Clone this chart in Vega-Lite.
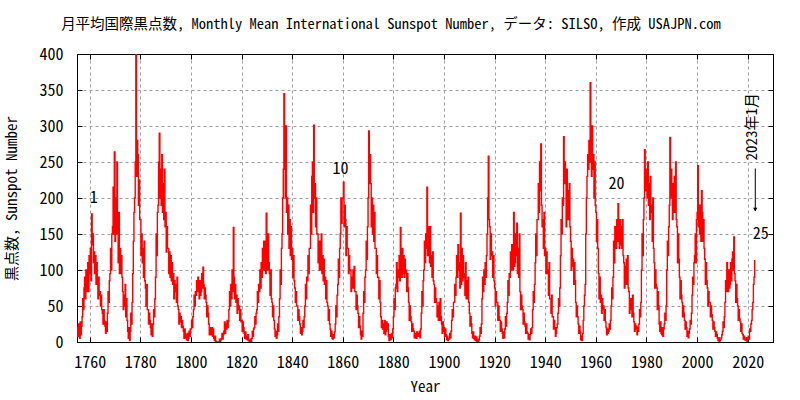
{
"$schema":"https://vega.github.io/schema/vega-lite/v6.json",
"width":696,"height":288,
"autosize":{"type":"none"},
"padding":{"left":77,"top":54,"right":27,"bottom":58},
"background":"white",
"title":{"text":"月平均国際黒点数, Monthly Mean International Sunspot Number, データ: SILSO, 作成 USAJPN.com","fontSize":14.5,"fontWeight":"normal","font":"Noto Sans Mono CJK JP, DejaVu Sans Mono, Noto Sans CJK JP, monospace","color":"black","anchor":"middle","dx":-34,"offset":14},
"config":{
"font":"Noto Sans Mono CJK JP, DejaVu Sans Mono, Noto Sans CJK JP, monospace",
"view":{"stroke":"black","strokeWidth":1},
"axis":{"labelFont":"Noto Sans Mono CJK JP, DejaVu Sans Mono, Noto Sans CJK JP, monospace","titleFont":"Noto Sans Mono CJK JP, DejaVu Sans Mono, Noto Sans CJK JP, monospace","labelFontSize":16,"titleFontSize":15,"titleFontWeight":"normal","labelColor":"black","titleColor":"black","domainColor":"black","tickColor":"black","tickSize":-5,"gridColor":"#a0a0a0","gridDash":[3,3],"gridWidth":1}
},
"datasets":{
"lab":[
{"k":"n","t":1760,"v":200,"s":"1"},
{"k":"n","t":1856,"v":240,"s":"10"},
{"k":"n","t":1965,"v":220,"s":"20"},
{"k":"n","t":2022,"v":150,"s":"25"},
{"k":"r","t":2021.9,"v":299,"s":"2023年1月"},
{"k":"a","t":2023,"v":241,"v2":182,"h":184}
],
"ssn":[
{"t":1755,"v":20},{"t":1755.25,"v":8},{"t":1755.5,"v":25},{"t":1755.75,"v":12},
{"t":1756,"v":5},{"t":1756.25,"v":28},{"t":1756.5,"v":10},{"t":1756.75,"v":22},
{"t":1757,"v":35},{"t":1757.25,"v":60},{"t":1757.5,"v":45},{"t":1757.75,"v":75},
{"t":1758,"v":90},{"t":1758.25,"v":60},{"t":1758.5,"v":100},{"t":1758.75,"v":70},
{"t":1759,"v":85},{"t":1759.25,"v":110},{"t":1759.5,"v":70},{"t":1759.75,"v":120},
{"t":1760,"v":95},{"t":1760.25,"v":130},{"t":1760.5,"v":85},{"t":1760.75,"v":178},
{"t":1761,"v":135},{"t":1761.25,"v":150},{"t":1761.5,"v":110},{"t":1761.75,"v":125},
{"t":1762,"v":95},{"t":1762.25,"v":120},{"t":1762.5,"v":80},{"t":1762.75,"v":110},
{"t":1763,"v":85},{"t":1763.25,"v":60},{"t":1763.5,"v":90},{"t":1763.75,"v":65},
{"t":1764,"v":70},{"t":1764.25,"v":50},{"t":1764.5,"v":65},{"t":1764.75,"v":45},
{"t":1765,"v":40},{"t":1765.25,"v":25},{"t":1765.5,"v":45},{"t":1765.75,"v":30},
{"t":1766,"v":22},{"t":1766.25,"v":12},{"t":1766.5,"v":28},{"t":1766.75,"v":15},
{"t":1767,"v":40},{"t":1767.25,"v":70},{"t":1767.5,"v":55},{"t":1767.75,"v":85},
{"t":1768,"v":95},{"t":1768.25,"v":130},{"t":1768.5,"v":100},{"t":1768.75,"v":150},
{"t":1769,"v":160},{"t":1769.25,"v":215},{"t":1769.5,"v":150},{"t":1769.75,"v":264},
{"t":1770,"v":140},{"t":1770.25,"v":200},{"t":1770.5,"v":150},{"t":1770.75,"v":250},
{"t":1771,"v":160},{"t":1771.25,"v":110},{"t":1771.5,"v":180},{"t":1771.75,"v":95},
{"t":1772,"v":130},{"t":1772.25,"v":95},{"t":1772.5,"v":120},{"t":1772.75,"v":90},
{"t":1773,"v":70},{"t":1773.25,"v":45},{"t":1773.5,"v":65},{"t":1773.75,"v":50},
{"t":1774,"v":80},{"t":1774.25,"v":35},{"t":1774.5,"v":60},{"t":1774.75,"v":30},
{"t":1775,"v":15},{"t":1775.25,"v":5},{"t":1775.5,"v":20},{"t":1775.75,"v":2},
{"t":1776,"v":15},{"t":1776.25,"v":40},{"t":1776.5,"v":25},{"t":1776.75,"v":55},
{"t":1777,"v":95},{"t":1777.25,"v":140},{"t":1777.5,"v":180},{"t":1777.75,"v":200},
{"t":1778,"v":250},{"t":1778.25,"v":400},{"t":1778.5,"v":230},{"t":1778.75,"v":280},
{"t":1779,"v":260},{"t":1779.25,"v":190},{"t":1779.5,"v":225},{"t":1779.75,"v":170},
{"t":1780,"v":170},{"t":1780.25,"v":120},{"t":1780.5,"v":150},{"t":1780.75,"v":110},
{"t":1781,"v":130},{"t":1781.25,"v":90},{"t":1781.5,"v":140},{"t":1781.75,"v":85},
{"t":1782,"v":75},{"t":1782.25,"v":50},{"t":1782.5,"v":80},{"t":1782.75,"v":45},
{"t":1783,"v":45},{"t":1783.25,"v":25},{"t":1783.5,"v":40},{"t":1783.75,"v":30},
{"t":1784,"v":20},{"t":1784.25,"v":10},{"t":1784.5,"v":25},{"t":1784.75,"v":8},
{"t":1785,"v":25},{"t":1785.25,"v":45},{"t":1785.5,"v":35},{"t":1785.75,"v":60},
{"t":1786,"v":90},{"t":1786.25,"v":150},{"t":1786.5,"v":120},{"t":1786.75,"v":180},
{"t":1787,"v":190},{"t":1787.25,"v":250},{"t":1787.5,"v":290},{"t":1787.75,"v":200},
{"t":1788,"v":240},{"t":1788.25,"v":190},{"t":1788.5,"v":260},{"t":1788.75,"v":180},
{"t":1789,"v":220},{"t":1789.25,"v":170},{"t":1789.5,"v":240},{"t":1789.75,"v":160},
{"t":1790,"v":180},{"t":1790.25,"v":125},{"t":1790.5,"v":160},{"t":1790.75,"v":130},
{"t":1791,"v":130},{"t":1791.25,"v":95},{"t":1791.5,"v":125},{"t":1791.75,"v":90},
{"t":1792,"v":120},{"t":1792.25,"v":85},{"t":1792.5,"v":110},{"t":1792.75,"v":80},
{"t":1793,"v":95},{"t":1793.25,"v":60},{"t":1793.5,"v":85},{"t":1793.75,"v":70},
{"t":1794,"v":80},{"t":1794.25,"v":55},{"t":1794.5,"v":90},{"t":1794.75,"v":50},
{"t":1795,"v":45},{"t":1795.25,"v":25},{"t":1795.5,"v":40},{"t":1795.75,"v":28},
{"t":1796,"v":35},{"t":1796.25,"v":20},{"t":1796.5,"v":30},{"t":1796.75,"v":22},
{"t":1797,"v":15},{"t":1797.25,"v":5},{"t":1797.5,"v":18},{"t":1797.75,"v":6},
{"t":1798,"v":10},{"t":1798.25,"v":3},{"t":1798.5,"v":12},{"t":1798.75,"v":2},
{"t":1799,"v":5},{"t":1799.25,"v":15},{"t":1799.5,"v":8},{"t":1799.75,"v":18},
{"t":1800,"v":18},{"t":1800.25,"v":30},{"t":1800.5,"v":20},{"t":1800.75,"v":35},
{"t":1801,"v":45},{"t":1801.25,"v":65},{"t":1801.5,"v":50},{"t":1801.75,"v":70},
{"t":1802,"v":65},{"t":1802.25,"v":85},{"t":1802.5,"v":70},{"t":1802.75,"v":90},
{"t":1803,"v":80},{"t":1803.25,"v":60},{"t":1803.5,"v":85},{"t":1803.75,"v":65},
{"t":1804,"v":70},{"t":1804.25,"v":95},{"t":1804.5,"v":75},{"t":1804.75,"v":104},
{"t":1805,"v":80},{"t":1805.25,"v":60},{"t":1805.5,"v":75},{"t":1805.75,"v":65},
{"t":1806,"v":55},{"t":1806.25,"v":35},{"t":1806.5,"v":50},{"t":1806.75,"v":40},
{"t":1807,"v":25},{"t":1807.25,"v":10},{"t":1807.5,"v":20},{"t":1807.75,"v":12},
{"t":1808,"v":10},{"t":1808.25,"v":20},{"t":1808.5,"v":8},{"t":1808.75,"v":18},
{"t":1809,"v":5},{"t":1809.25,"v":2},{"t":1809.5,"v":8},{"t":1809.75,"v":1},
{"t":1810,"v":0},{"t":1810.25,"v":0},{"t":1810.5,"v":0},{"t":1810.75,"v":0},
{"t":1811,"v":0},{"t":1811.25,"v":4},{"t":1811.5,"v":1},{"t":1811.75,"v":3},
{"t":1812,"v":5},{"t":1812.25,"v":12},{"t":1812.5,"v":4},{"t":1812.75,"v":10},
{"t":1813,"v":15},{"t":1813.25,"v":28},{"t":1813.5,"v":12},{"t":1813.75,"v":25},
{"t":1814,"v":18},{"t":1814.25,"v":30},{"t":1814.5,"v":20},{"t":1814.75,"v":28},
{"t":1815,"v":45},{"t":1815.25,"v":70},{"t":1815.5,"v":50},{"t":1815.75,"v":80},
{"t":1816,"v":60},{"t":1816.25,"v":100},{"t":1816.5,"v":70},{"t":1816.75,"v":159},
{"t":1817,"v":90},{"t":1817.25,"v":60},{"t":1817.5,"v":80},{"t":1817.75,"v":55},
{"t":1818,"v":65},{"t":1818.25,"v":40},{"t":1818.5,"v":60},{"t":1818.75,"v":45},
{"t":1819,"v":50},{"t":1819.25,"v":30},{"t":1819.5,"v":45},{"t":1819.75,"v":28},
{"t":1820,"v":30},{"t":1820.25,"v":15},{"t":1820.5,"v":28},{"t":1820.75,"v":20},
{"t":1821,"v":12},{"t":1821.25,"v":5},{"t":1821.5,"v":14},{"t":1821.75,"v":4},
{"t":1822,"v":8},{"t":1822.25,"v":3},{"t":1822.5,"v":10},{"t":1822.75,"v":2},
{"t":1823,"v":1},{"t":1823.25,"v":0},{"t":1823.5,"v":4},{"t":1823.75,"v":1},
{"t":1824,"v":5},{"t":1824.25,"v":15},{"t":1824.5,"v":8},{"t":1824.75,"v":18},
{"t":1825,"v":20},{"t":1825.25,"v":35},{"t":1825.5,"v":25},{"t":1825.75,"v":40},
{"t":1826,"v":45},{"t":1826.25,"v":70},{"t":1826.5,"v":55},{"t":1826.75,"v":80},
{"t":1827,"v":70},{"t":1827.25,"v":100},{"t":1827.5,"v":75},{"t":1827.75,"v":110},
{"t":1828,"v":90},{"t":1828.25,"v":130},{"t":1828.5,"v":100},{"t":1828.75,"v":140},
{"t":1829,"v":100},{"t":1829.25,"v":140},{"t":1829.5,"v":95},{"t":1829.75,"v":179},
{"t":1830,"v":130},{"t":1830.25,"v":100},{"t":1830.5,"v":150},{"t":1830.75,"v":110},
{"t":1831,"v":95},{"t":1831.25,"v":65},{"t":1831.5,"v":100},{"t":1831.75,"v":60},
{"t":1832,"v":55},{"t":1832.25,"v":35},{"t":1832.5,"v":50},{"t":1832.75,"v":30},
{"t":1833,"v":18},{"t":1833.25,"v":8},{"t":1833.5,"v":15},{"t":1833.75,"v":5},
{"t":1834,"v":10},{"t":1834.25,"v":25},{"t":1834.5,"v":15},{"t":1834.75,"v":35},
{"t":1835,"v":60},{"t":1835.25,"v":100},{"t":1835.5,"v":80},{"t":1835.75,"v":130},
{"t":1836,"v":150},{"t":1836.25,"v":200},{"t":1836.5,"v":240},{"t":1836.75,"v":345},
{"t":1837,"v":260},{"t":1837.25,"v":200},{"t":1837.5,"v":300},{"t":1837.75,"v":180},
{"t":1838,"v":200},{"t":1838.25,"v":150},{"t":1838.5,"v":190},{"t":1838.75,"v":130},
{"t":1839,"v":170},{"t":1839.25,"v":120},{"t":1839.5,"v":160},{"t":1839.75,"v":115},
{"t":1840,"v":130},{"t":1840.25,"v":90},{"t":1840.5,"v":120},{"t":1840.75,"v":85},
{"t":1841,"v":75},{"t":1841.25,"v":55},{"t":1841.5,"v":70},{"t":1841.75,"v":50},
{"t":1842,"v":50},{"t":1842.25,"v":30},{"t":1842.5,"v":45},{"t":1842.75,"v":35},
{"t":1843,"v":25},{"t":1843.25,"v":12},{"t":1843.5,"v":20},{"t":1843.75,"v":10},
{"t":1844,"v":15},{"t":1844.25,"v":30},{"t":1844.5,"v":20},{"t":1844.75,"v":35},
{"t":1845,"v":50},{"t":1845.25,"v":80},{"t":1845.5,"v":60},{"t":1845.75,"v":90},
{"t":1846,"v":85},{"t":1846.25,"v":120},{"t":1846.5,"v":95},{"t":1846.75,"v":130},
{"t":1847,"v":130},{"t":1847.25,"v":190},{"t":1847.5,"v":150},{"t":1847.75,"v":230},
{"t":1848,"v":250},{"t":1848.25,"v":180},{"t":1848.5,"v":301},{"t":1848.75,"v":200},
{"t":1849,"v":220},{"t":1849.25,"v":160},{"t":1849.5,"v":200},{"t":1849.75,"v":150},
{"t":1850,"v":150},{"t":1850.25,"v":110},{"t":1850.5,"v":140},{"t":1850.75,"v":100},
{"t":1851,"v":140},{"t":1851.25,"v":100},{"t":1851.5,"v":150},{"t":1851.75,"v":95},
{"t":1852,"v":120},{"t":1852.25,"v":85},{"t":1852.5,"v":115},{"t":1852.75,"v":80},
{"t":1853,"v":90},{"t":1853.25,"v":60},{"t":1853.5,"v":85},{"t":1853.75,"v":55},
{"t":1854,"v":50},{"t":1854.25,"v":30},{"t":1854.5,"v":45},{"t":1854.75,"v":25},
{"t":1855,"v":18},{"t":1855.25,"v":8},{"t":1855.5,"v":15},{"t":1855.75,"v":5},
{"t":1856,"v":4},{"t":1856.25,"v":10},{"t":1856.5,"v":6},{"t":1856.75,"v":14},
{"t":1857,"v":25},{"t":1857.25,"v":50},{"t":1857.5,"v":35},{"t":1857.75,"v":65},
{"t":1858,"v":80},{"t":1858.25,"v":115},{"t":1858.5,"v":90},{"t":1858.75,"v":130},
{"t":1859,"v":150},{"t":1859.25,"v":200},{"t":1859.5,"v":165},{"t":1859.75,"v":200},
{"t":1860,"v":200},{"t":1860.25,"v":222},{"t":1860.5,"v":160},{"t":1860.75,"v":190},
{"t":1861,"v":170},{"t":1861.25,"v":120},{"t":1861.5,"v":160},{"t":1861.75,"v":130},
{"t":1862,"v":130},{"t":1862.25,"v":95},{"t":1862.5,"v":120},{"t":1862.75,"v":100},
{"t":1863,"v":100},{"t":1863.25,"v":70},{"t":1863.5,"v":90},{"t":1863.75,"v":75},
{"t":1864,"v":100},{"t":1864.25,"v":75},{"t":1864.5,"v":105},{"t":1864.75,"v":70},
{"t":1865,"v":70},{"t":1865.25,"v":45},{"t":1865.5,"v":65},{"t":1865.75,"v":50},
{"t":1866,"v":40},{"t":1866.25,"v":20},{"t":1866.5,"v":35},{"t":1866.75,"v":22},
{"t":1867,"v":10},{"t":1867.25,"v":4},{"t":1867.5,"v":15},{"t":1867.75,"v":8},
{"t":1868,"v":40},{"t":1868.25,"v":70},{"t":1868.5,"v":55},{"t":1868.75,"v":90},
{"t":1869,"v":100},{"t":1869.25,"v":140},{"t":1869.5,"v":115},{"t":1869.75,"v":160},
{"t":1870,"v":200},{"t":1870.25,"v":293},{"t":1870.5,"v":220},{"t":1870.75,"v":260},
{"t":1871,"v":220},{"t":1871.25,"v":160},{"t":1871.5,"v":200},{"t":1871.75,"v":150},
{"t":1872,"v":190},{"t":1872.25,"v":140},{"t":1872.5,"v":180},{"t":1872.75,"v":130},
{"t":1873,"v":130},{"t":1873.25,"v":95},{"t":1873.5,"v":120},{"t":1873.75,"v":90},
{"t":1874,"v":90},{"t":1874.25,"v":60},{"t":1874.5,"v":85},{"t":1874.75,"v":55},
{"t":1875,"v":35},{"t":1875.25,"v":20},{"t":1875.5,"v":30},{"t":1875.75,"v":18},
{"t":1876,"v":25},{"t":1876.25,"v":12},{"t":1876.5,"v":30},{"t":1876.75,"v":10},
{"t":1877,"v":15},{"t":1877.25,"v":28},{"t":1877.5,"v":18},{"t":1877.75,"v":25},
{"t":1878,"v":8},{"t":1878.25,"v":2},{"t":1878.5,"v":10},{"t":1878.75,"v":3},
{"t":1879,"v":4},{"t":1879.25,"v":12},{"t":1879.5,"v":6},{"t":1879.75,"v":18},
{"t":1880,"v":35},{"t":1880.25,"v":60},{"t":1880.5,"v":45},{"t":1880.75,"v":75},
{"t":1881,"v":80},{"t":1881.25,"v":110},{"t":1881.5,"v":70},{"t":1881.75,"v":100},
{"t":1882,"v":90},{"t":1882.25,"v":120},{"t":1882.5,"v":85},{"t":1882.75,"v":159},
{"t":1883,"v":110},{"t":1883.25,"v":90},{"t":1883.5,"v":130},{"t":1883.75,"v":95},
{"t":1884,"v":120},{"t":1884.25,"v":90},{"t":1884.5,"v":115},{"t":1884.75,"v":95},
{"t":1885,"v":100},{"t":1885.25,"v":70},{"t":1885.5,"v":95},{"t":1885.75,"v":75},
{"t":1886,"v":55},{"t":1886.25,"v":30},{"t":1886.5,"v":50},{"t":1886.75,"v":35},
{"t":1887,"v":28},{"t":1887.25,"v":15},{"t":1887.5,"v":25},{"t":1887.75,"v":18},
{"t":1888,"v":15},{"t":1888.25,"v":6},{"t":1888.5,"v":12},{"t":1888.75,"v":8},
{"t":1889,"v":5},{"t":1889.25,"v":14},{"t":1889.5,"v":8},{"t":1889.75,"v":12},
{"t":1890,"v":8},{"t":1890.25,"v":15},{"t":1890.5,"v":6},{"t":1890.75,"v":18},
{"t":1891,"v":40},{"t":1891.25,"v":70},{"t":1891.5,"v":50},{"t":1891.75,"v":85},
{"t":1892,"v":100},{"t":1892.25,"v":140},{"t":1892.5,"v":110},{"t":1892.75,"v":150},
{"t":1893,"v":130},{"t":1893.25,"v":215},{"t":1893.5,"v":120},{"t":1893.75,"v":160},
{"t":1894,"v":150},{"t":1894.25,"v":110},{"t":1894.5,"v":160},{"t":1894.75,"v":105},
{"t":1895,"v":120},{"t":1895.25,"v":90},{"t":1895.5,"v":125},{"t":1895.75,"v":85},
{"t":1896,"v":80},{"t":1896.25,"v":55},{"t":1896.5,"v":75},{"t":1896.75,"v":60},
{"t":1897,"v":55},{"t":1897.25,"v":35},{"t":1897.5,"v":50},{"t":1897.75,"v":30},
{"t":1898,"v":55},{"t":1898.25,"v":30},{"t":1898.5,"v":60},{"t":1898.75,"v":35},
{"t":1899,"v":25},{"t":1899.25,"v":12},{"t":1899.5,"v":28},{"t":1899.75,"v":15},
{"t":1900,"v":20},{"t":1900.25,"v":8},{"t":1900.5,"v":18},{"t":1900.75,"v":10},
{"t":1901,"v":3},{"t":1901.25,"v":8},{"t":1901.5,"v":2},{"t":1901.75,"v":5},
{"t":1902,"v":4},{"t":1902.25,"v":12},{"t":1902.5,"v":6},{"t":1902.75,"v":15},
{"t":1903,"v":30},{"t":1903.25,"v":45},{"t":1903.5,"v":35},{"t":1903.75,"v":55},
{"t":1904,"v":55},{"t":1904.25,"v":80},{"t":1904.5,"v":65},{"t":1904.75,"v":90},
{"t":1905,"v":120},{"t":1905.25,"v":90},{"t":1905.5,"v":135},{"t":1905.75,"v":100},
{"t":1906,"v":110},{"t":1906.25,"v":75},{"t":1906.5,"v":179},{"t":1906.75,"v":80},
{"t":1907,"v":130},{"t":1907.25,"v":85},{"t":1907.5,"v":120},{"t":1907.75,"v":90},
{"t":1908,"v":95},{"t":1908.25,"v":65},{"t":1908.5,"v":110},{"t":1908.75,"v":60},
{"t":1909,"v":85},{"t":1909.25,"v":60},{"t":1909.5,"v":90},{"t":1909.75,"v":55},
{"t":1910,"v":40},{"t":1910.25,"v":22},{"t":1910.5,"v":35},{"t":1910.75,"v":25},
{"t":1911,"v":12},{"t":1911.25,"v":6},{"t":1911.5,"v":14},{"t":1911.75,"v":5},
{"t":1912,"v":3},{"t":1912.25,"v":8},{"t":1912.5,"v":2},{"t":1912.75,"v":7},
{"t":1913,"v":1},{"t":1913.25,"v":4},{"t":1913.5,"v":0},{"t":1913.75,"v":3},
{"t":1914,"v":8},{"t":1914.25,"v":20},{"t":1914.5,"v":12},{"t":1914.75,"v":25},
{"t":1915,"v":60},{"t":1915.25,"v":90},{"t":1915.5,"v":70},{"t":1915.75,"v":100},
{"t":1916,"v":80},{"t":1916.25,"v":110},{"t":1916.5,"v":90},{"t":1916.75,"v":120},
{"t":1917,"v":150},{"t":1917.25,"v":200},{"t":1917.5,"v":258},{"t":1917.75,"v":170},
{"t":1918,"v":160},{"t":1918.25,"v":115},{"t":1918.5,"v":150},{"t":1918.75,"v":120},
{"t":1919,"v":125},{"t":1919.25,"v":90},{"t":1919.5,"v":120},{"t":1919.75,"v":85},
{"t":1920,"v":75},{"t":1920.25,"v":50},{"t":1920.5,"v":70},{"t":1920.75,"v":55},
{"t":1921,"v":55},{"t":1921.25,"v":30},{"t":1921.5,"v":50},{"t":1921.75,"v":35},
{"t":1922,"v":30},{"t":1922.25,"v":15},{"t":1922.5,"v":28},{"t":1922.75,"v":18},
{"t":1923,"v":12},{"t":1923.25,"v":5},{"t":1923.5,"v":14},{"t":1923.75,"v":6},
{"t":1924,"v":18},{"t":1924.25,"v":35},{"t":1924.5,"v":22},{"t":1924.75,"v":40},
{"t":1925,"v":55},{"t":1925.25,"v":85},{"t":1925.5,"v":65},{"t":1925.75,"v":95},
{"t":1926,"v":90},{"t":1926.25,"v":125},{"t":1926.5,"v":100},{"t":1926.75,"v":135},
{"t":1927,"v":130},{"t":1927.25,"v":100},{"t":1927.5,"v":180},{"t":1927.75,"v":105},
{"t":1928,"v":110},{"t":1928.25,"v":150},{"t":1928.5,"v":120},{"t":1928.75,"v":165},
{"t":1929,"v":95},{"t":1929.25,"v":130},{"t":1929.5,"v":90},{"t":1929.75,"v":150},
{"t":1930,"v":70},{"t":1930.25,"v":45},{"t":1930.5,"v":65},{"t":1930.75,"v":50},
{"t":1931,"v":45},{"t":1931.25,"v":25},{"t":1931.5,"v":40},{"t":1931.75,"v":28},
{"t":1932,"v":22},{"t":1932.25,"v":12},{"t":1932.5,"v":25},{"t":1932.75,"v":14},
{"t":1933,"v":12},{"t":1933.25,"v":4},{"t":1933.5,"v":10},{"t":1933.75,"v":3},
{"t":1934,"v":10},{"t":1934.25,"v":18},{"t":1934.5,"v":12},{"t":1934.75,"v":20},
{"t":1935,"v":45},{"t":1935.25,"v":70},{"t":1935.5,"v":55},{"t":1935.75,"v":80},
{"t":1936,"v":110},{"t":1936.25,"v":150},{"t":1936.5,"v":120},{"t":1936.75,"v":170},
{"t":1937,"v":170},{"t":1937.25,"v":220},{"t":1937.5,"v":180},{"t":1937.75,"v":250},
{"t":1938,"v":210},{"t":1938.25,"v":275},{"t":1938.5,"v":190},{"t":1938.75,"v":160},
{"t":1939,"v":170},{"t":1939.25,"v":130},{"t":1939.5,"v":180},{"t":1939.75,"v":120},
{"t":1940,"v":130},{"t":1940.25,"v":95},{"t":1940.5,"v":125},{"t":1940.75,"v":100},
{"t":1941,"v":95},{"t":1941.25,"v":65},{"t":1941.5,"v":110},{"t":1941.75,"v":60},
{"t":1942,"v":60},{"t":1942.25,"v":40},{"t":1942.5,"v":65},{"t":1942.75,"v":35},
{"t":1943,"v":35},{"t":1943.25,"v":18},{"t":1943.5,"v":30},{"t":1943.75,"v":20},
{"t":1944,"v":8},{"t":1944.25,"v":12},{"t":1944.5,"v":20},{"t":1944.75,"v":25},
{"t":1945,"v":40},{"t":1945.25,"v":60},{"t":1945.5,"v":50},{"t":1945.75,"v":75},
{"t":1946,"v":120},{"t":1946.25,"v":170},{"t":1946.5,"v":150},{"t":1946.75,"v":200},
{"t":1947,"v":190},{"t":1947.25,"v":285},{"t":1947.5,"v":220},{"t":1947.75,"v":250},
{"t":1948,"v":220},{"t":1948.25,"v":160},{"t":1948.5,"v":240},{"t":1948.75,"v":170},
{"t":1949,"v":210},{"t":1949.25,"v":170},{"t":1949.5,"v":220},{"t":1949.75,"v":160},
{"t":1950,"v":140},{"t":1950.25,"v":100},{"t":1950.5,"v":130},{"t":1950.75,"v":105},
{"t":1951,"v":115},{"t":1951.25,"v":80},{"t":1951.5,"v":110},{"t":1951.75,"v":85},
{"t":1952,"v":55},{"t":1952.25,"v":35},{"t":1952.5,"v":50},{"t":1952.75,"v":35},
{"t":1953,"v":25},{"t":1953.25,"v":12},{"t":1953.5,"v":22},{"t":1953.75,"v":15},
{"t":1954,"v":3},{"t":1954.25,"v":8},{"t":1954.5,"v":2},{"t":1954.75,"v":12},
{"t":1955,"v":30},{"t":1955.25,"v":50},{"t":1955.5,"v":65},{"t":1955.75,"v":80},
{"t":1956,"v":150},{"t":1956.25,"v":200},{"t":1956.5,"v":230},{"t":1956.75,"v":260},
{"t":1957,"v":240},{"t":1957.25,"v":280},{"t":1957.5,"v":250},{"t":1957.75,"v":360},
{"t":1958,"v":290},{"t":1958.25,"v":230},{"t":1958.5,"v":300},{"t":1958.75,"v":240},
{"t":1959,"v":260},{"t":1959.25,"v":200},{"t":1959.5,"v":250},{"t":1959.75,"v":190},
{"t":1960,"v":180},{"t":1960.25,"v":140},{"t":1960.5,"v":170},{"t":1960.75,"v":130},
{"t":1961,"v":95},{"t":1961.25,"v":60},{"t":1961.5,"v":90},{"t":1961.75,"v":55},
{"t":1962,"v":65},{"t":1962.25,"v":40},{"t":1962.5,"v":60},{"t":1962.75,"v":45},
{"t":1963,"v":50},{"t":1963.25,"v":30},{"t":1963.5,"v":45},{"t":1963.75,"v":28},
{"t":1964,"v":20},{"t":1964.25,"v":10},{"t":1964.5,"v":18},{"t":1964.75,"v":12},
{"t":1965,"v":15},{"t":1965.25,"v":25},{"t":1965.5,"v":18},{"t":1965.75,"v":30},
{"t":1966,"v":50},{"t":1966.25,"v":75},{"t":1966.5,"v":60},{"t":1966.75,"v":90},
{"t":1967,"v":140},{"t":1967.25,"v":110},{"t":1967.5,"v":160},{"t":1967.75,"v":130},
{"t":1968,"v":130},{"t":1968.25,"v":170},{"t":1968.5,"v":140},{"t":1968.75,"v":192},
{"t":1969,"v":165},{"t":1969.25,"v":130},{"t":1969.5,"v":170},{"t":1969.75,"v":135},
{"t":1970,"v":160},{"t":1970.25,"v":130},{"t":1970.5,"v":170},{"t":1970.75,"v":120},
{"t":1971,"v":110},{"t":1971.25,"v":75},{"t":1971.5,"v":105},{"t":1971.75,"v":80},
{"t":1972,"v":115},{"t":1972.25,"v":80},{"t":1972.5,"v":120},{"t":1972.75,"v":75},
{"t":1973,"v":70},{"t":1973.25,"v":40},{"t":1973.5,"v":60},{"t":1973.75,"v":45},
{"t":1974,"v":60},{"t":1974.25,"v":35},{"t":1974.5,"v":65},{"t":1974.75,"v":40},
{"t":1975,"v":28},{"t":1975.25,"v":15},{"t":1975.5,"v":25},{"t":1975.75,"v":18},
{"t":1976,"v":22},{"t":1976.25,"v":10},{"t":1976.5,"v":20},{"t":1976.75,"v":15},
{"t":1977,"v":25},{"t":1977.25,"v":45},{"t":1977.5,"v":35},{"t":1977.75,"v":55},
{"t":1978,"v":100},{"t":1978.25,"v":150},{"t":1978.5,"v":120},{"t":1978.75,"v":170},
{"t":1979,"v":200},{"t":1979.25,"v":267},{"t":1979.5,"v":210},{"t":1979.75,"v":240},
{"t":1980,"v":240},{"t":1980.25,"v":200},{"t":1980.5,"v":250},{"t":1980.75,"v":190},
{"t":1981,"v":220},{"t":1981.25,"v":170},{"t":1981.5,"v":230},{"t":1981.75,"v":180},
{"t":1982,"v":190},{"t":1982.25,"v":140},{"t":1982.5,"v":200},{"t":1982.75,"v":130},
{"t":1983,"v":110},{"t":1983.25,"v":75},{"t":1983.5,"v":100},{"t":1983.75,"v":80},
{"t":1984,"v":75},{"t":1984.25,"v":45},{"t":1984.5,"v":70},{"t":1984.75,"v":50},
{"t":1985,"v":25},{"t":1985.25,"v":15},{"t":1985.5,"v":28},{"t":1985.75,"v":12},
{"t":1986,"v":10},{"t":1986.25,"v":20},{"t":1986.5,"v":8},{"t":1986.75,"v":18},
{"t":1987,"v":25},{"t":1987.25,"v":40},{"t":1987.5,"v":30},{"t":1987.75,"v":50},
{"t":1988,"v":100},{"t":1988.25,"v":140},{"t":1988.5,"v":120},{"t":1988.75,"v":160},
{"t":1989,"v":190},{"t":1989.25,"v":284},{"t":1989.5,"v":200},{"t":1989.75,"v":240},
{"t":1990,"v":210},{"t":1990.25,"v":170},{"t":1990.5,"v":220},{"t":1990.75,"v":180},
{"t":1991,"v":230},{"t":1991.25,"v":180},{"t":1991.5,"v":250},{"t":1991.75,"v":170},
{"t":1992,"v":160},{"t":1992.25,"v":110},{"t":1992.5,"v":150},{"t":1992.75,"v":115},
{"t":1993,"v":90},{"t":1993.25,"v":60},{"t":1993.5,"v":85},{"t":1993.75,"v":65},
{"t":1994,"v":55},{"t":1994.25,"v":35},{"t":1994.5,"v":50},{"t":1994.75,"v":40},
{"t":1995,"v":30},{"t":1995.25,"v":18},{"t":1995.5,"v":28},{"t":1995.75,"v":20},
{"t":1996,"v":8},{"t":1996.25,"v":15},{"t":1996.5,"v":6},{"t":1996.75,"v":12},
{"t":1997,"v":18},{"t":1997.25,"v":30},{"t":1997.5,"v":25},{"t":1997.75,"v":40},
{"t":1998,"v":65},{"t":1998.25,"v":90},{"t":1998.5,"v":80},{"t":1998.75,"v":110},
{"t":1999,"v":120},{"t":1999.25,"v":150},{"t":1999.5,"v":110},{"t":1999.75,"v":170},
{"t":2000,"v":180},{"t":2000.25,"v":245},{"t":2000.5,"v":160},{"t":2000.75,"v":190},
{"t":2001,"v":150},{"t":2001.25,"v":190},{"t":2001.5,"v":140},{"t":2001.75,"v":210},
{"t":2002,"v":180},{"t":2002.25,"v":140},{"t":2002.5,"v":170},{"t":2002.75,"v":130},
{"t":2003,"v":115},{"t":2003.25,"v":80},{"t":2003.5,"v":110},{"t":2003.75,"v":85},
{"t":2004,"v":75},{"t":2004.25,"v":50},{"t":2004.5,"v":70},{"t":2004.75,"v":55},
{"t":2005,"v":55},{"t":2005.25,"v":35},{"t":2005.5,"v":50},{"t":2005.75,"v":38},
{"t":2006,"v":30},{"t":2006.25,"v":18},{"t":2006.5,"v":28},{"t":2006.75,"v":20},
{"t":2007,"v":15},{"t":2007.25,"v":8},{"t":2007.5,"v":14},{"t":2007.75,"v":10},
{"t":2008,"v":5},{"t":2008.25,"v":2},{"t":2008.5,"v":6},{"t":2008.75,"v":1},
{"t":2009,"v":2},{"t":2009.25,"v":4},{"t":2009.5,"v":6},{"t":2009.75,"v":10},
{"t":2010,"v":15},{"t":2010.25,"v":28},{"t":2010.5,"v":20},{"t":2010.75,"v":35},
{"t":2011,"v":55},{"t":2011.25,"v":85},{"t":2011.5,"v":70},{"t":2011.75,"v":110},
{"t":2012,"v":95},{"t":2012.25,"v":70},{"t":2012.5,"v":100},{"t":2012.75,"v":75},
{"t":2013,"v":80},{"t":2013.25,"v":110},{"t":2013.5,"v":85},{"t":2013.75,"v":115},
{"t":2014,"v":125},{"t":2014.25,"v":100},{"t":2014.5,"v":146},{"t":2014.75,"v":95},
{"t":2015,"v":85},{"t":2015.25,"v":55},{"t":2015.5,"v":80},{"t":2015.75,"v":60},
{"t":2016,"v":50},{"t":2016.25,"v":30},{"t":2016.5,"v":45},{"t":2016.75,"v":32},
{"t":2017,"v":28},{"t":2017.25,"v":15},{"t":2017.5,"v":25},{"t":2017.75,"v":12},
{"t":2018,"v":10},{"t":2018.25,"v":4},{"t":2018.5,"v":8},{"t":2018.75,"v":3},
{"t":2019,"v":5},{"t":2019.25,"v":2},{"t":2019.5,"v":6},{"t":2019.75,"v":1},
{"t":2020,"v":5},{"t":2020.25,"v":8},{"t":2020.5,"v":4},{"t":2020.75,"v":18},
{"t":2021,"v":15},{"t":2021.25,"v":25},{"t":2021.5,"v":30},{"t":2021.75,"v":45},
{"t":2022,"v":55},{"t":2022.25,"v":80},{"t":2022.5,"v":90},{"t":2022.75,"v":113},
{"t":2023,"v":113}
]
},
"layer":[
{"data":{"name":"ssn"},
"mark":{"type":"line","color":"#ff0000","strokeWidth":1.4,"interpolate":"step-after","clip":true},
"encoding":{
"x":{"field":"t","type":"quantitative","scale":{"domain":[1755,2030],"nice":false,"zero":false},
"axis":{"values":[1760,1780,1800,1820,1840,1860,1880,1900,1920,1940,1960,1980,2000,2020],"format":"d","title":"Year","labelPadding":17,"titlePadding":9,"grid":true,"labelFlush":false}},
"y":{"field":"v","type":"quantitative","scale":{"domain":[0,400],"nice":false},
"axis":{"values":[0,50,100,150,200,250,300,350,400],"format":"d","title":"黒点数, Sunspot Number","labelPadding":19,"titlePadding":19,"grid":true,"labelFlush":false}}}},
{"data":{"name":"lab"},"transform":[{"filter":"datum.k == 'n'"}],
"mark":{"type":"text","align":"left","baseline":"middle","fontSize":16,"color":"black"},
"encoding":{
"x":{"field":"t","type":"quantitative","axis":{"orient":"top","labels":false,"grid":false,"title":null,"values":[1760,1780,1800,1820,1840,1860,1880,1900,1920,1940,1960,1980,2000,2020]}},
"y":{"field":"v","type":"quantitative","axis":{"orient":"right","labels":false,"grid":false,"title":null,"values":[0,50,100,150,200,250,300,350,400]}},
"text":{"field":"s"}}},
{"data":{"name":"lab"},"transform":[{"filter":"datum.k == 'r'"}],
"mark":{"type":"text","align":"center","baseline":"middle","fontSize":15,"angle":270,"color":"black"},
"encoding":{
"x":{"field":"t","type":"quantitative","axis":null},
"y":{"field":"v","type":"quantitative","axis":null},
"text":{"field":"s"}}},
{"data":{"name":"lab"},"transform":[{"filter":"datum.k == 'a'"}],
"mark":{"type":"rule","color":"black","strokeWidth":1},
"encoding":{
"x":{"field":"t","type":"quantitative","axis":null},
"y":{"field":"v","type":"quantitative","axis":null},
"y2":{"field":"v2"}}},
{"data":{"name":"lab"},"transform":[{"filter":"datum.k == 'a'"}],
"mark":{"type":"point","shape":"triangle-down","filled":true,"color":"black","size":18,"opacity":1},
"encoding":{
"x":{"field":"t","type":"quantitative","axis":null},
"y":{"field":"h","type":"quantitative","axis":null}}}
],
"resolve":{"axis":{"x":"independent","y":"independent"}}
}
